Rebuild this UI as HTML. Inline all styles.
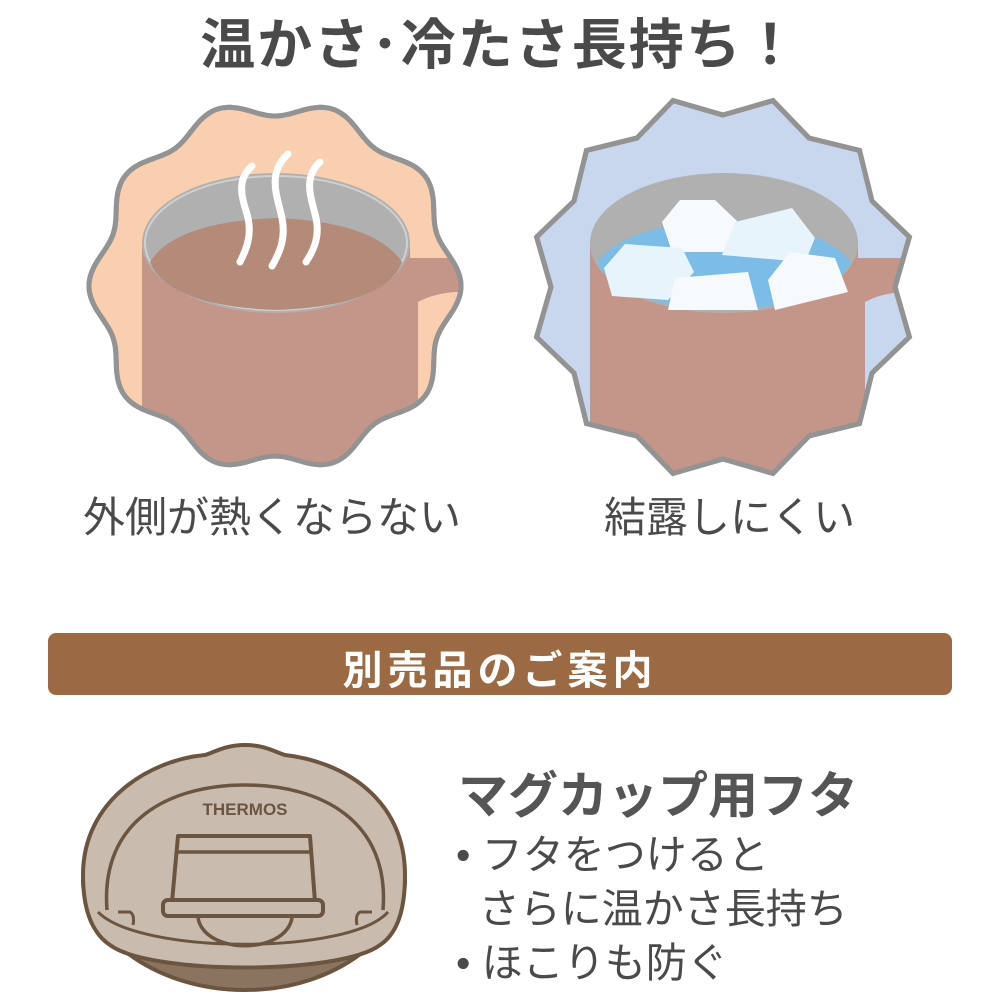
<!DOCTYPE html>
<html><head><meta charset="utf-8"><style>
body{margin:0;width:1000px;height:1000px;background:#fff;overflow:hidden;position:relative;font-family:"Liberation Sans","Noto Sans CJK JP",sans-serif;color:#4a4a4a}
.t{position:absolute;white-space:nowrap}
</style></head><body>
<svg id="s" width="1000" height="1000" style="position:absolute;left:0;top:0">
<defs>
<clipPath id="c1"><path id="cp1"/></clipPath>
<clipPath id="c2"><path id="cp2"/></clipPath>
</defs>
<path id="b1" fill="#f9cfb0" stroke="#939393" stroke-width="5"/>
<g clip-path="url(#c1)">
 <path d="M405,258 L475,258 L475,292 Q440,290 418,302 L418,500 L405,500Z" fill="#c4968a"/>
 <rect x="142" y="243" width="268" height="270" fill="#c4968a"/>
 <ellipse cx="276" cy="243" rx="134" ry="70" fill="#b0b0b0"/>
 <ellipse cx="276" cy="243" rx="131" ry="67" fill="none" stroke="#d0d0d0" stroke-width="2"/>
 <path d="M150,262 Q175,222 276,218 Q375,222 402,262 Q385,306 276,310 Q168,306 150,262Z" fill="#b48a78"/>
</g>
<path id="b1s" fill="none" stroke="#939393" stroke-width="5"/>
<g fill="none" stroke="#fff" stroke-linecap="round">
 <path d="M252,166 C234,182 244,202 248,218 C252,236 246,250 240,262" stroke-width="7"/>
 <path d="M288,154 C266,174 278,198 282,218 C286,238 280,252 272,266" stroke-width="7"/>
 <path d="M320,162 C302,178 312,200 316,218 C320,236 314,250 306,262" stroke-width="7"/>
</g>

<path id="b2" fill="#c9d7ee" stroke="#939393" stroke-width="5"/>
<g clip-path="url(#c2)">
 <path d="M852,258 L922,258 L922,292 Q887,290 865,302 L865,500 L852,500Z" fill="#c4968a"/>
 <rect x="590" y="243" width="268" height="270" fill="#c4968a"/>
 <ellipse cx="724" cy="243" rx="134" ry="70" fill="#b0b0b0"/>
 <path d="M597,262 Q627,224 724,220 Q820,224 851,262 Q830,306 724,310 Q617,306 597,262Z" fill="#7bbde6"/>
 <g fill="#f6fafd">
  <path d="M662,222 L680,200 L715,200 L738,222 L728,252 L672,252Z"/>
  <path d="M722,255 L735,222 L792,208 L815,238 L805,262Z" fill="#e8f4fb"/>
  <path d="M604,268 L625,244 L682,248 L694,272 L668,300 L612,296Z" fill="#e8f4fb"/>
  <path d="M668,310 L675,278 L748,272 L758,310Z"/>
  <path d="M768,280 L790,252 L835,258 L848,292 L775,310Z"/>
 </g>
</g>
<path id="b2s" fill="none" stroke="#939393" stroke-width="5"/>

<rect x="48" y="633" width="904" height="62" rx="8" fill="#9b6a43"/>

<g stroke="#6b5540" stroke-width="4" fill="#c9bcaf" stroke-linejoin="round">
 <path d="M83,880 C83,930 150,990 245,990 C340,990 405,930 405,880 L395,880 C395,920 330,960 245,960 C160,960 95,920 95,880Z" fill="#8a7460"/>
 <path d="M83,875 C83,800 150,760 205,755 C215,752 225,745 245,745 C265,745 275,752 285,755 C345,762 405,800 405,875 C405,915 395,935 380,945 C340,975 150,975 110,945 C95,935 83,915 83,875Z"/>
 <path d="M107,910 C100,820 170,785 245,785 C320,785 390,820 383,910" fill="none" stroke-width="3.5"/>
 <path d="M178,836 L310,836 L315,902 L172,902Z"/>
 <line x1="178" y1="852" x2="310" y2="852" stroke-width="3.5"/>
 <rect x="163" y="900" width="160" height="16" rx="5"/>
 <path d="M198,918 C205,955 285,955 292,918" fill="none" stroke-width="3.5"/>
 <path d="M98,912 C140,955 350,955 388,912" fill="none" stroke-width="3"/>
 <path d="M118,912 L130,912 Q135,915 133,925" fill="none" stroke-width="3"/>
 <path d="M372,912 L360,912 Q355,915 357,925" fill="none" stroke-width="3"/>
</g>
<text x="245" y="815" font-family="Liberation Sans" font-weight="bold" font-size="17" fill="#6b5540" text-anchor="middle">THERMOS</text>
</svg>

<div class="t" style="left:0;width:1000px;text-align:center;top:0px;font-size:55px;font-weight:bold;color:#4a4a4a;letter-spacing:2px">温かさ･冷たさ長持ち！</div>
<div class="t" style="left:83px;top:484px;font-size:42px">外側が熱くならない</div>
<div class="t" style="left:604px;top:484px;font-size:42px">結露しにくい</div>
<div class="t" style="left:0;width:1000px;text-align:center;top:638px;font-size:40px;font-weight:bold;color:#fff;letter-spacing:5px">別売品のご案内</div>
<div class="t" style="left:458px;top:756px;font-size:50px;font-weight:bold;color:#555">マグカップ用フタ</div>
<div class="t" style="left:456px;top:828px;font-size:41px;line-height:54px;color:#4a4a4a">• フタをつけると<br>&nbsp;&nbsp;さらに温かさ長持ち<br>• ほこりも防ぐ</div>

<script>
function wavy(cx,cy,r,a,n){let d='';for(let i=0;i<=360;i++){let t=i*Math.PI/180-Math.PI/2;let rr=r+a*Math.cos(n*t);d+=(i?'L':'M')+(cx+rr*Math.cos(t)).toFixed(1)+','+(cy+rr*Math.sin(t)).toFixed(1);}return d+'Z';}
function star(cx,cy,r1,r2,n,off){let d='';for(let i=0;i<2*n;i++){let t=i*Math.PI/n-Math.PI/2+off;let rr=i%2?r2:r1;d+=(i?'L':'M')+(cx+rr*Math.cos(t)).toFixed(1)+','+(cy+rr*Math.sin(t)).toFixed(1);}return d+'Z';}
let d1=wavy(275,286,178,8,10),d2=star(723,287,172,193,12,0);
['b1','b1s','cp1'].forEach(i=>document.getElementById(i).setAttribute('d',d1));
['b2','b2s','cp2'].forEach(i=>document.getElementById(i).setAttribute('d',d2));
</script>
</body></html>
